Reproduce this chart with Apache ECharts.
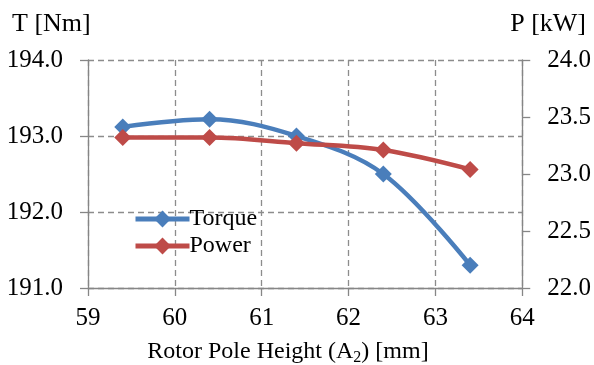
<!DOCTYPE html>
<html><head><meta charset="utf-8">
<script src="https://cdn.jsdelivr.net/npm/echarts@6/dist/echarts.min.js"></script>
<style>html,body{margin:0;padding:0;background:#fff}#c{width:594px;height:365px}</style>
</head><body><div id="c"></div>
<script>
const poleHeight = [59.4, 60.4, 61.4, 62.4, 63.4];
const torque = [193.12, 193.22, 193.0, 192.5, 191.3];
const power = [23.32, 23.32, 23.27, 23.21, 23.04];
const seriesNames = ['Torque', 'Power'];
const font = "'Liberation Serif','Times New Roman',serif";
const axisGray = '#868686';
const chart = echarts.init(document.getElementById('c'));
chart.setOption({
  animation: false,
  backgroundColor: '#fff',
  grid: {left: 88, right: 71, top: 60, bottom: 77},
  legend: {
    orient: 'vertical', left: 128, top: 202, itemWidth: 54, itemHeight: 21, itemGap: 3,
    lineStyle: {width: 5},
    textStyle: {fontFamily: font, fontSize: 24, color: '#000', padding: [0,0,0,-5]},
    data: seriesNames
  },
  xAxis: {
    type: 'value', min: 59, max: 64, interval: 1,
    axisLine: {show: true, lineStyle: {color: axisGray, width: 1.3}},
    axisTick: {show: true, length: 8, lineStyle: {color: axisGray, width: 1.3}},
    axisLabel: {fontFamily: font, fontSize: 25, color: '#000', margin: 18},
    splitLine: {show: true, lineStyle: {color: '#8c8c8c', type: [6,4], width: 1.3}}
  },
  yAxis: [{
    type: 'value', min: 191, max: 194, interval: 1,
    axisLine: {show: true, lineStyle: {color: axisGray, width: 1.3}},
    axisTick: {show: true, length: 8, lineStyle: {color: axisGray, width: 1.3}},
    axisLabel: {fontFamily: font, fontSize: 25, color: '#000', margin: 25, formatter: v => v.toFixed(1)},
    splitLine: {show: true, lineStyle: {color: '#8c8c8c', type: [6,4], width: 1.3}}
  }, {
    type: 'value', min: 22, max: 24, interval: 0.5, position: 'right',
    axisLine: {show: true, lineStyle: {color: axisGray, width: 1.3}},
    axisTick: {show: true, length: 8, lineStyle: {color: axisGray, width: 1.3}},
    axisLabel: {fontFamily: font, fontSize: 25, color: '#000', margin: 25, formatter: v => v.toFixed(1)},
    splitLine: {show: false}
  }],
  graphic: [
    {type: 'text', left: 12, top: 11, style: {text: 'T [Nm]', font: '26px ' + font, fill: '#000'}},
    {type: 'text', right: 8, top: 11, style: {text: 'P [kW]', font: '26px ' + font, fill: '#000'}},
    {type: 'text', x: 288, y: 338, style: {
      text: 'Rotor Pole Height (A{s|2}) [mm]', font: '24px ' + font, fill: '#000', align: 'center',
      rich: {s: {fontSize: 16, fontFamily: font, padding: [12,0,0,0]}}
    }}
  ],
  series: [{
    name: seriesNames[0], type: 'line', yAxisIndex: 0, smooth: 0.35,
    data: poleHeight.map((x, i) => [x, torque[i]]),
    symbol: 'diamond', symbolSize: 17,
    lineStyle: {color: '#4a7ebb', width: 4.5},
    itemStyle: {color: '#4a7ebb'}
  }, {
    name: seriesNames[1], type: 'line', yAxisIndex: 1, smooth: 0.35,
    data: poleHeight.map((x, i) => [x, power[i]]),
    symbol: 'diamond', symbolSize: 17,
    lineStyle: {color: '#be4b48', width: 4.5},
    itemStyle: {color: '#be4b48'}
  }]
});
</script></body></html>
